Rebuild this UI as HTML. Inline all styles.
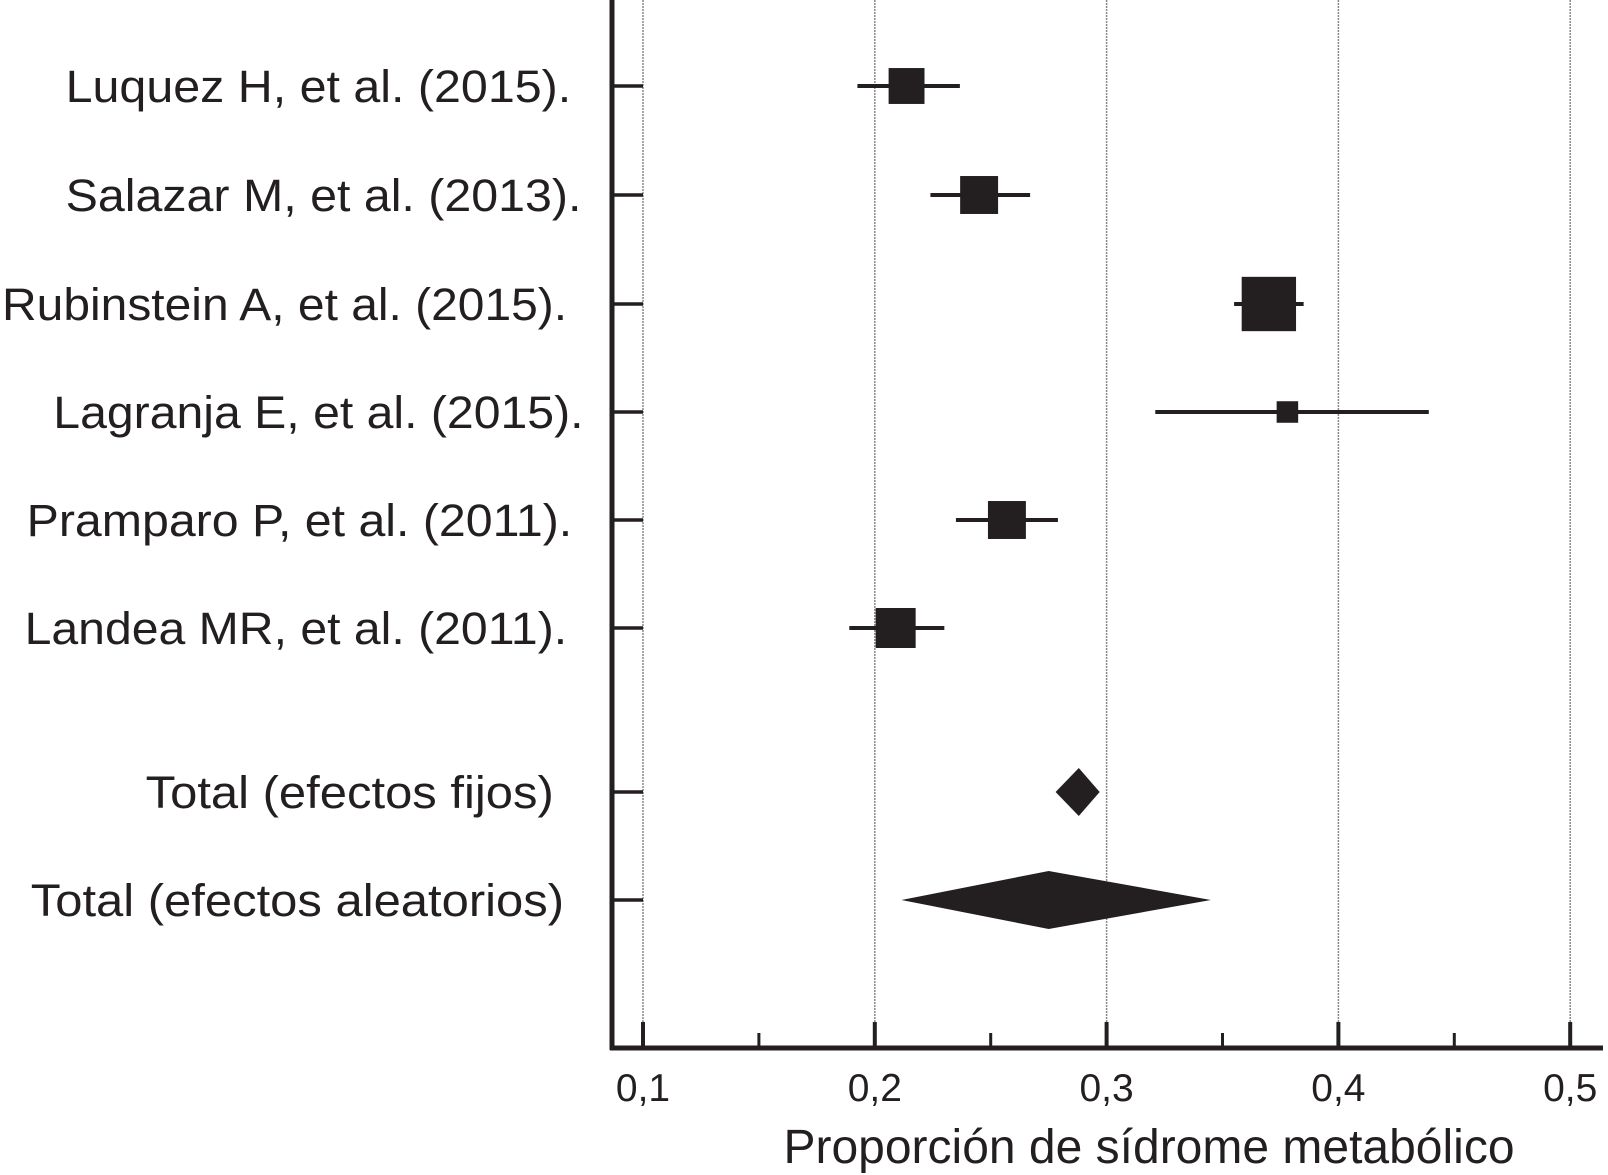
<!DOCTYPE html>
<html><head><meta charset="utf-8"><style>html,body{margin:0;padding:0;background:#fff}svg{display:block}text{font-family:"Liberation Sans",sans-serif;fill:#231f20}</style></head>
<body>
<svg id="chart" width="1608" height="1175" viewBox="0 0 1608 1175" xmlns="http://www.w3.org/2000/svg"></svg>
<script>
const studies=["Luquez H, et al. (2015).","Salazar M, et al. (2013).","Rubinstein A, et al. (2015).","Lagranja E, et al. (2015).","Pramparo P, et al. (2011).","Landea MR, et al. (2011)."];
const estimates=[0.2137,0.245,0.370,0.378,0.257,0.209];
const lowers=[0.1925,0.224,0.355,0.321,0.235,0.189];
const uppers=[0.2367,0.267,0.385,0.439,0.279,0.230];
const weights=[35,37,53,21,37,39];
const totals=["Total (efectos fijos)","Total (efectos aleatorios)"];
const totalEst=[0.288,0.275];
const totalLo=[0.278,0.2115];
const totalHi=[0.297,0.345];
const ticks=[0.1,0.2,0.3,0.4,0.5];
const tickLabels=["0,1","0,2","0,3","0,4","0,5"];
const minorTicks=[0.15,0.25,0.35,0.45];

const NS="http://www.w3.org/2000/svg";
const svg=document.getElementById('chart');
const s=1608/1568;
const x=v=>643+(v-0.1)*2318;
const rowY=[86,195,304,412,520,628,792,900];
const labelStart=[64,64,2,52,26,24,142,30].map(v=>v*s);
const labelW=[493,503,551,517,532,529,398,520].map(v=>v*s);
function el(t,a){const e=document.createElementNS(NS,t);for(const k in a)e.setAttribute(k,a[k]);svg.appendChild(e);return e;}
ticks.forEach(t=>{const g=el('line',{x1:x(t),x2:x(t),y1:0,y2:1030,stroke:'#888','stroke-width':1.5,'stroke-dasharray':'2,1'});

});
const ya=el('line',{x1:612,x2:612,y1:0,y2:1050,stroke:'#231f20','stroke-width':5});


const xa=el('line',{x1:610,x2:1603,y1:1048,y2:1048,stroke:'#231f20','stroke-width':5});


ticks.forEach((t,i)=>{
 const tk=el('line',{x1:x(t),x2:x(t),y1:1022,y2:1048,stroke:'#231f20','stroke-width':4});
 
 
 const tl=el('text',{x:x(t),y:1101,'font-size':39,'text-anchor':'middle'});tl.textContent=tickLabels[i];
 
 
});
minorTicks.forEach(t=>{const m=el('line',{x1:x(t),x2:x(t),y1:1033,y2:1048,stroke:'#231f20','stroke-width':3});

});
const at=el('text',{x:1149,y:1163,'font-size':48,'text-anchor':'middle'});at.textContent='Proporción de sídrome metabólico';


const allLabels=studies.concat(totals);
allLabels.forEach((lab,i)=>{
 const yt=el('line',{x1:612,x2:643,y1:rowY[i],y2:rowY[i],stroke:'#231f20','stroke-width':3.5});
 
 
 const t=el('text',{x:labelStart[i],y:rowY[i]+16,'font-size':45,textLength:labelW[i],lengthAdjust:'spacingAndGlyphs'});t.textContent=lab;
 
 
});
studies.forEach((st,i)=>{
 const y=rowY[i];
 const ci=el('line',{x1:x(lowers[i]),x2:x(uppers[i]),y1:y,y2:y,stroke:'#231f20','stroke-width':4});
 
 
 const w=weights[i]*s;
 const b=el('rect',{x:x(estimates[i])-w/2,y:y-w/2,width:w,height:w,fill:'#231f20'});
 
 
});
const dh=[24,29];
totals.forEach((t,i)=>{
 const y=rowY[6+i];
 const d=el('polygon',{points:`${x(totalLo[i])},${y} ${x(totalEst[i])},${y-dh[i]} ${x(totalHi[i])},${y} ${x(totalEst[i])},${y+dh[i]}`,fill:'#231f20'});
 
 
});
</script>
</body></html>
